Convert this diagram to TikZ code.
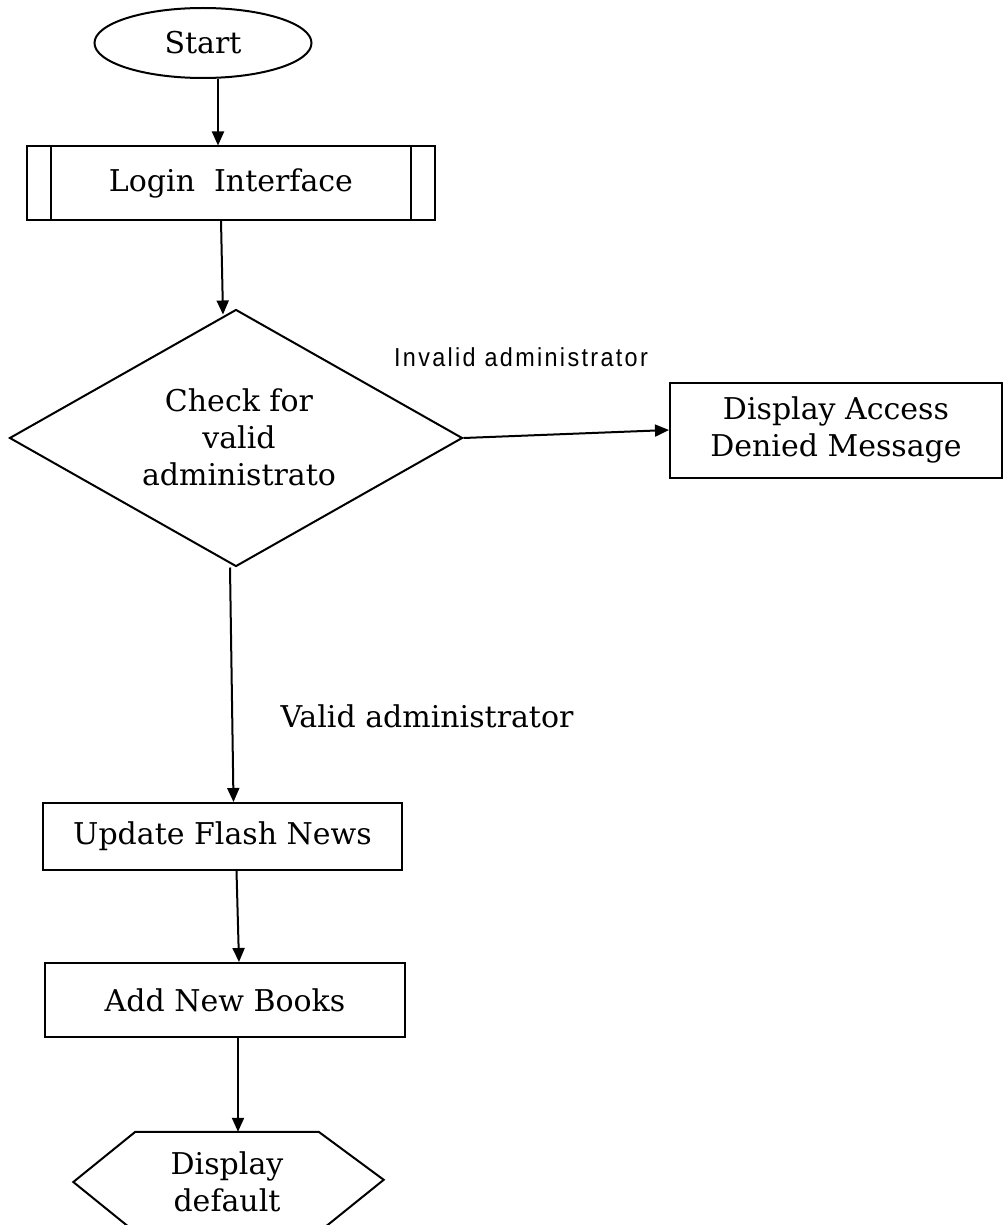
\documentclass[tikz,border=0pt]{standalone}
\usepackage{fontspec}
\setmainfont{DejaVu Serif}
\newfontfamily\narrowsans[FakeStretch=0.9,LetterSpace=9]{Liberation Sans}
\usetikzlibrary{shapes.geometric,arrows.meta,calc}

\tikzset{
  every node/.style={font=\fontsize{30}{37}\selectfont, align=center},
  line/.style={line width=2pt},
  arr/.style={line width=2pt, -{Triangle[length=14pt,width=12pt]}},
  procbox/.style={draw, line width=2pt, rectangle, inner sep=0pt},
  narrowlabel/.style={font=\narrowsans\fontsize{26}{30}\selectfont}
}

\begin{document}
\begin{tikzpicture}[x=1pt, y=-1pt]
  \useasboundingbox[fill=white] (0,0) rectangle (1003,1225);
  \clip (0,0) rectangle (1003,1225);

  % terminal
  \node[draw, line, ellipse, minimum width=217pt, minimum height=70pt, inner sep=0pt] (start) at (203,43) {Start};

  % predefined process
  \node[procbox, minimum width=408pt, minimum height=73pt] (login) at (231,183) {Login\ \ Interface};
  \draw[line] ([xshift=25pt]login.north west) -- ([xshift=25pt]login.south west);
  \draw[line] ([xshift=-25pt]login.north east) -- ([xshift=-25pt]login.south east);

  % decision
  \node[draw, line, diamond, minimum width=453pt, minimum height=257pt, inner sep=0pt] (check) at (236,438) {};
  \node (checktext) at (239,437) {Check for\\valid\\administrato};

  % access denied
  \node[procbox, minimum width=332pt, minimum height=95pt] (deny) at (836,430) {Display Access\\Denied Message};

  % valid branch
  \node[procbox, minimum width=359pt, minimum height=67pt] (update) at (222.5,836.5) {Update Flash News};
  \node[procbox, minimum width=360pt, minimum height=74pt] (add) at (225,1000) {Add New Books};

  % display (hexagon)
  \node[minimum width=183pt, minimum height=100pt, inner sep=0pt] (disp) at (227,1182) {Display\\default};
  \draw[line] (disp.north west) -- (disp.north east) -- ++(65,48) -- (disp.south east)
    -- (disp.south west) -- ($(disp.west)+(-62,0)$) -- cycle;

  % connectors
  \draw[arr] ([xshift=15pt]start.south) -- ([xshift=-13pt]login.north);
  \draw[arr] ([xshift=-10pt]login.south) -- ([xshift=-13pt,yshift=-6pt]check.north);
  \draw[arr] (check.east) -- (deny.west);
  \draw[arr] ([xshift=-6pt]check.south) -- ([xshift=11pt]update.north);
  \draw[arr] ([xshift=14pt]update.south) -- ([xshift=14pt]add.north);
  \draw[arr] ([xshift=13pt]add.south) -- ([xshift=11pt]disp.north);

  % branch labels
  \node[narrowlabel] (invalidlbl) at (521,357) {Invalid administrator};
  \node (validlbl) at (427,716) {Valid administrator};
\end{tikzpicture}
\end{document}
